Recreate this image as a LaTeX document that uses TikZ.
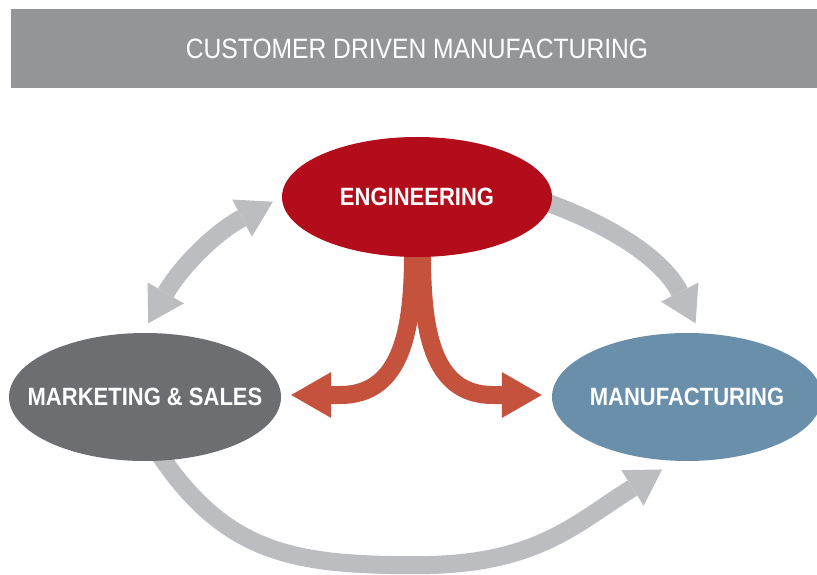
\documentclass[tikz,border=0pt]{standalone}
\usepackage{fontspec}
\setmainfont{Liberation Sans}
\newfontfamily\narrowsans{Liberation Sans}[FakeStretch=0.88]
\usetikzlibrary{shapes.geometric,arrows.meta,calc,backgrounds}
\definecolor{headergray}{HTML}{939598}
\definecolor{arrowgray}{HTML}{BCBDC0}
\definecolor{engred}{HTML}{B30D1B}
\definecolor{mktgray}{HTML}{6D6E71}
\definecolor{mfgblue}{HTML}{6A8FAB}
\definecolor{arrowred}{HTML}{C4523D}
\newcommand{\blobtext}[1]{\makebox[0pt]{#1}}

\begin{document}
\begin{tikzpicture}[x=1pt,y=1pt,
	blob/.style={ellipse,minimum width=270pt,minimum height=128pt,inner sep=0pt,text=white,
		font=\narrowsans\bfseries\fontsize{25}{25}\selectfont},
	grayarrow/.style={arrowgray,line width=18pt,-{Triangle[width=42pt,length=35pt,line width=0pt]}},
	redarrow/.style={arrowred,line width=18pt,-{Triangle[width=46pt,length=40pt,line width=0pt]}}]
		
		\useasboundingbox (0,0) rectangle (817,574);
		\clip (0,0) rectangle (817,574);
		
		% header bar
		\fill[headergray] (11,486) rectangle (817,565);
		\node[text=white,inner sep=0pt,font=\narrowsans\fontsize{28}{28}\selectfont] (title) at (417,525) {CUSTOMER DRIVEN MANUFACTURING};
		
		\node[blob,fill=engred,minimum height=120pt] (eng) at (417,377) {\blobtext{ENGINEERING}};
		\node[blob,fill=mktgray,minimum width=272pt] (mkt) at (145,177) {\blobtext{MARKETING \& SALES}};
		\node[blob,fill=mfgblue] (mfg) at (687,177) {\blobtext{MANUFACTURING}};
		
		\begin{scope}[on background layer]
		%\draw[grayarrow] (mkt) -- (eng);
		\draw[grayarrow,{Triangle[width=42pt,length=35pt,line width=0pt]}-{Triangle[width=42pt,length=35pt,line width=0pt]},shorten <=11pt,shorten >=10pt] (mkt.92) to[out=60,in=208] (eng.west);
		\draw[grayarrow,shorten <=-6pt,shorten >=11pt] (eng.-3) to[out=-20,in=117] (mfg.78);
		\draw[grayarrow,shorten >=16pt] ($(mkt.south)+(15,6)$) to[out=-56,in=180,looseness=1.1] ($(mkt.south)!0.5!(mfg.south)+(0,-104)$) to[out=0,in=212,looseness=1.1] (mfg.-100);
		
		\draw[redarrow,shorten >=10pt] ($(eng.south)+(-4,4)$) to[out=-90,in=0,out looseness=1.2] ($(mkt.east)+(59,2)$) -- ($(mkt.east)+(0,2)$);
		\draw[redarrow,shorten >=10pt] ($(eng.south)+(5,4)$) to[out=-90,in=180,out looseness=1.2] ($(mfg.west)+(-59,2)$) -- ($(mfg.west)+(0,2)$);
		\end{scope}
		
\end{tikzpicture}
\end{document}
